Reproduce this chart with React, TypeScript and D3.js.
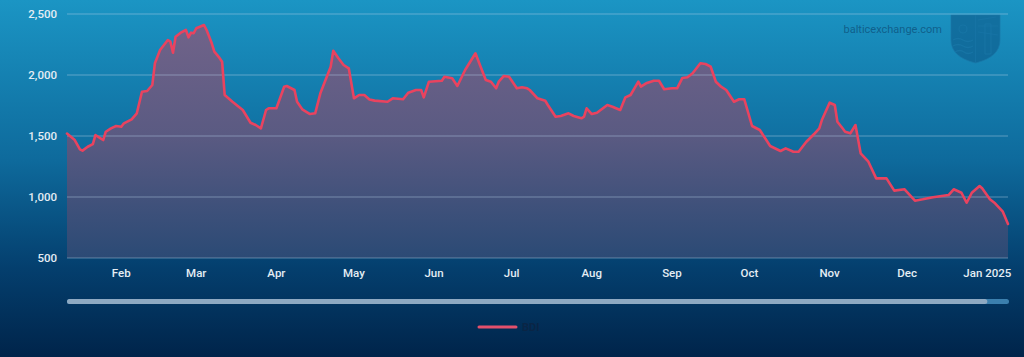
import React from 'react';
import * as d3 from 'd3';

const dates: string[] = [
  '2024-01-11','2024-01-14','2024-01-16','2024-01-17','2024-01-19','2024-01-21','2024-01-22','2024-01-24','2024-01-25','2024-01-26',
  '2024-01-28','2024-01-30','2024-02-01','2024-02-02','2024-02-05','2024-02-07','2024-02-09','2024-02-11','2024-02-13','2024-02-14',
  '2024-02-16','2024-02-19','2024-02-20','2024-02-21','2024-02-22','2024-02-24','2024-02-26','2024-02-27','2024-02-28','2024-02-29',
  '2024-03-01','2024-03-04','2024-03-05','2024-03-07','2024-03-08','2024-03-10','2024-03-11','2024-03-12','2024-03-15','2024-03-19',
  '2024-03-22','2024-03-24','2024-03-26','2024-03-28','2024-03-29','2024-04-01','2024-04-04','2024-04-05','2024-04-08','2024-04-09',
  '2024-04-11','2024-04-14','2024-04-16','2024-04-18','2024-04-22','2024-04-23','2024-04-25','2024-04-27','2024-04-29','2024-05-01',
  '2024-05-03','2024-05-05','2024-05-07','2024-05-09','2024-05-14','2024-05-16','2024-05-20','2024-05-22','2024-05-25','2024-05-27',
  '2024-05-28','2024-05-30','2024-06-04','2024-06-05','2024-06-08','2024-06-10','2024-06-13','2024-06-17','2024-06-19','2024-06-21',
  '2024-06-23','2024-06-25','2024-06-26','2024-06-28','2024-06-30','2024-07-03','2024-07-05','2024-07-07','2024-07-08','2024-07-11',
  '2024-07-14','2024-07-15','2024-07-18','2024-07-20','2024-07-23','2024-07-25','2024-07-28','2024-07-29','2024-07-30','2024-08-01',
  '2024-08-03','2024-08-07','2024-08-09','2024-08-12','2024-08-14','2024-08-16','2024-08-19','2024-08-20','2024-08-22','2024-08-25',
  '2024-08-27','2024-08-29','2024-09-01','2024-09-03','2024-09-05','2024-09-07','2024-09-09','2024-09-12','2024-09-14','2024-09-16',
  '2024-09-18','2024-09-20','2024-09-22','2024-09-25','2024-09-27','2024-09-29','2024-10-02','2024-10-05','2024-10-09','2024-10-13',
  '2024-10-15','2024-10-18','2024-10-20','2024-10-23','2024-10-26','2024-10-28','2024-10-29','2024-11-01','2024-11-03','2024-11-04',
  '2024-11-06','2024-11-07','2024-11-09','2024-11-11','2024-11-13','2024-11-16','2024-11-19','2024-11-23','2024-11-26','2024-11-30',
  '2024-12-04','2024-12-07','2024-12-11','2024-12-17','2024-12-19','2024-12-22','2024-12-24','2024-12-26','2024-12-29','2024-12-30',
  '2025-01-02','2025-01-04','2025-01-07','2025-01-09'
];

const bdiValues: number[] = [
  1520,1467,1391,1380,1412,1434,1508,1481,1467,1535,
  1563,1582,1576,1604,1637,1686,1863,1869,1918,2096,
  2205,2287,2273,2183,2314,2347,2369,2309,2347,2342,
  2383,2410,2369,2260,2191,2140,2109,1836,1781,1713,
  1609,1590,1563,1713,1727,1727,1904,1910,1877,1781,
  1719,1680,1686,1850,2068,2199,2137,2082,2055,1809,
  1836,1836,1800,1790,1781,1809,1801,1855,1877,1877,
  1817,1945,1953,1986,1973,1910,2041,2178,2068,1959,
  1945,1891,1945,1992,1986,1891,1899,1891,1877,1809,
  1789,1754,1658,1664,1686,1664,1645,1658,1727,1680,
  1691,1754,1740,1713,1817,1836,1945,1905,1932,1953,
  1953,1883,1891,1891,1975,1981,2014,2096,2090,2068,
  1945,1904,1877,1781,1801,1801,1582,1549,1418,1377,
  1399,1371,1371,1453,1516,1563,1631,1773,1754,1617,
  1563,1535,1522,1590,1358,1289,1153,1153,1052,1063,
  970,981,998,1016,1063,1035,953,1035,1090,1071,
  981,948,880,779
];

const yTicks: number[] = [500, 1000, 1500, 2000, 2500];
const monthTicks: string[] = [
  '2024-02-01','2024-03-01','2024-04-01','2024-05-01','2024-06-01','2024-07-01',
  '2024-08-01','2024-09-01','2024-10-01','2024-11-01','2024-12-01','2025-01-01'
];
const seriesName = 'BDI';
const watermark = 'balticexchange.com';

const W = 1024;
const H = 357;
const left = 67;
const right = 1008;
const top = 14;
const bottom = 258;
const FONT = 'Roboto, "Noto Sans", sans-serif';

export default function App() {
  const parse = d3.utcParse('%Y-%m-%d');
  const data = dates.map((d, i) => ({ date: parse(d) as Date, value: bdiValues[i] }));
  const x = d3.scaleUtc()
    .domain(d3.extent(data, (d) => d.date) as [Date, Date])
    .range([left, right]);
  const y = d3.scaleLinear().domain([500, 2500]).range([bottom, top]);

  const line = d3.line<{ date: Date; value: number }>()
    .x((d) => x(d.date))
    .y((d) => y(d.value));
  const area = d3.area<{ date: Date; value: number }>()
    .x((d) => x(d.date))
    .y0(y(500))
    .y1((d) => y(d.value));

  const fmtMonth = d3.utcFormat('%b');
  const fmtYear = d3.utcFormat('%b %Y');
  const fmtNum = d3.format(',');

  return (
    <svg width={W} height={H} style={{ position: 'absolute', left: 0, top: 0 }}>
      <defs>
        <linearGradient id="bg" x1="0" y1="0" x2="0" y2="1">
          <stop offset="0" stopColor="#1b95c4" />
          <stop offset="0.45" stopColor="#0e6a9c" />
          <stop offset="0.75" stopColor="#043f6e" />
          <stop offset="1" stopColor="#00244a" />
        </linearGradient>
        <linearGradient id="areaFill" gradientUnits="userSpaceOnUse" x1="0" y1={top} x2="0" y2={bottom}>
          <stop offset="0" stopColor="#73648a" />
          <stop offset="0.5" stopColor="#5a5a82" />
          <stop offset="1" stopColor="#2b4a75" />
        </linearGradient>
      </defs>
      <rect x={0} y={0} width={W} height={H} fill="url(#bg)" />

      {/* watermark */}
      <text x={942} y={33} textAnchor="end" fontFamily={FONT} fontSize={11} fill="#0f5a85" fillOpacity={0.9}>
        {watermark}
      </text>
      <g fill="none" stroke="#1a77a8" strokeOpacity={0.7}>
        <path d="M951,15 H1000 V40 Q1000,57 975.5,63 Q951,57 951,40 Z" fill="#0d5a8a" fillOpacity={0.6} strokeWidth={1} />
        <line x1={975.5} y1={15} x2={975.5} y2={63} strokeWidth={0.8} />
        <path d="M953,40 q5,-3 10,0 t10,0 M953,46 q5,-3 10,0 t10,0 M955,52 q5,-3 9,0 t9,0" strokeWidth={1.3} />
        <circle cx={963} cy={29} r={4} strokeWidth={1.1} />
        <path d="M985,24 h6 v30 h-6 Z" strokeWidth={1} />
        <path d="M978,20 l18,-3 M978,26 l20,0 M978,32 l20,3" strokeWidth={0.8} />
      </g>

      {/* area */}
      <path d={area(data) || ''} fill="url(#areaFill)" />

      {/* grid */}
      {yTicks.map((t) => (
        <line key={t} x1={left} x2={right} y1={y(t)} y2={y(t)} stroke="#b9d3e6" strokeOpacity={0.45} strokeWidth={1} />
      ))}

      {/* line */}
      <path d={line(data) || ''} fill="none" stroke="#e9435f" strokeWidth={2.6} strokeLinejoin="round" strokeLinecap="round" />

      {/* y labels */}
      {yTicks.map((t) => (
        <text key={t} x={57} y={y(t) + 4} textAnchor="end" fontFamily={FONT} fontSize={11.5} fontWeight={500} fill="#e4edf4">
          {fmtNum(t)}
        </text>
      ))}

      {/* x labels */}
      {monthTicks.map((m, i) => {
        const d = parse(m) as Date;
        const label = i === monthTicks.length - 1 ? fmtYear(d) : fmtMonth(d);
        return (
          <text key={m} x={x(d)} y={277} textAnchor="middle" fontFamily={FONT} fontSize={11.5} fontWeight={500} fill="#e4edf4">
            {label}
          </text>
        );
      })}

      {/* scrollbar */}
      <rect x={left} y={299} width={right - left + 1} height={5} rx={2.5} fill="#3b7fae" />
      <rect x={left} y={299} width={x(parse('2025-01-01') as Date) - left} height={5} rx={2.5} fill="#8ea9c2" />

      {/* legend */}
      <line x1={479} x2={516} y1={327} y2={327} stroke="#e4506c" strokeWidth={3} strokeLinecap="round" />
      <text x={522} y={331} fontFamily={FONT} fontSize={11} fontWeight={700} fill="#0a2545">
        {seriesName}
      </text>
    </svg>
  );
}
